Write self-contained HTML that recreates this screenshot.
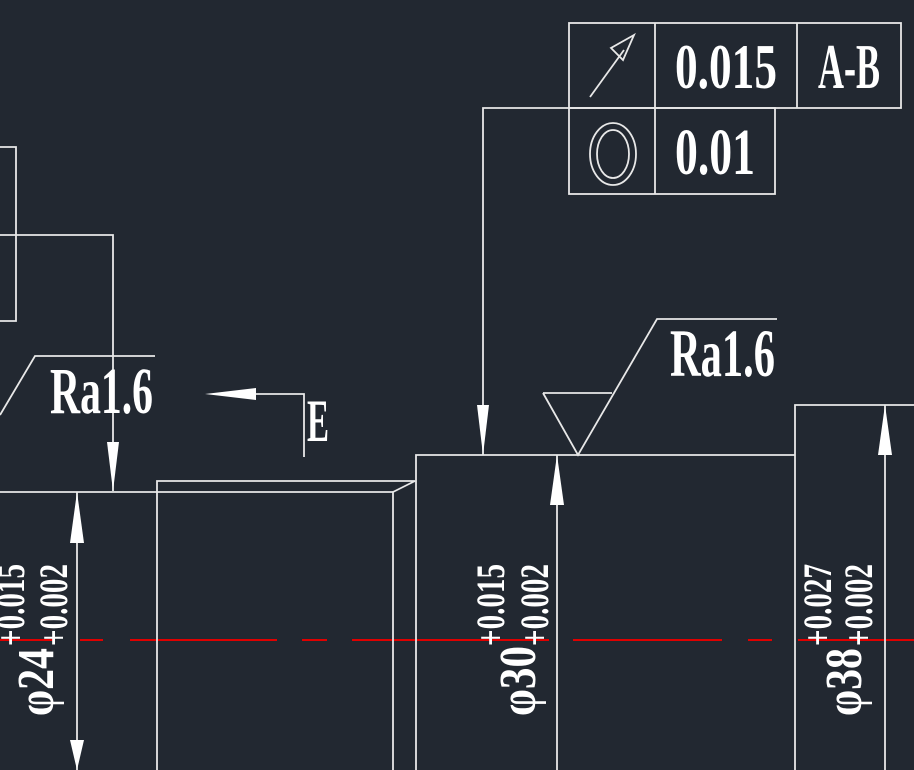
<!DOCTYPE html>
<html><head><meta charset="utf-8"><style>
html,body{margin:0;padding:0;background:#222831;}
svg{display:block}
text{font-family:"Liberation Serif",serif;fill:#fff;font-weight:bold;}
</style></head><body>
<svg width="914" height="770" viewBox="0 0 914 770" xmlns="http://www.w3.org/2000/svg">
<rect width="914" height="770" fill="#222831"/>
<g stroke="#e00000" stroke-width="2">
<line x1="0" y1="640" x2="55" y2="640"/><line x1="80" y1="640" x2="103" y2="640"/>
<line x1="130" y1="640" x2="277" y2="640"/><line x1="302" y1="640" x2="327" y2="640"/>
<line x1="352" y1="640" x2="549" y2="640"/><line x1="573" y1="640" x2="722" y2="640"/>
<line x1="748" y1="640" x2="772" y2="640"/><line x1="798" y1="640" x2="914" y2="640"/>
</g>
<g stroke="#e8e8e8" stroke-width="1.8" fill="none">
<polyline points="0,147 16,147 16,321 0,321"/>
<polyline points="0,235 113,235 113,491"/>
<polyline points="0,415 35,356 155,356"/>
<polyline points="240,394 304,394 304,457"/>
<line x1="0" y1="492" x2="393" y2="492"/>
<polyline points="157,770 157,481 415,481 393,492 393,770"/>
<polyline points="416,770 416,455 795,455"/>
<polyline points="795,770 795,405 914,405"/>
<line x1="77" y1="492" x2="77" y2="770"/>
<line x1="557" y1="455" x2="557" y2="770"/>
<line x1="885" y1="405" x2="885" y2="770"/>
<polyline points="483,455 483,108 569,108"/>
<polyline points="543,393 612,393"/>
<polyline points="543,393 578,455 657,319 777,319"/>
<rect x="569" y="23" width="332" height="85"/>
<rect x="569" y="108" width="206" height="86"/>
<line x1="655" y1="23" x2="655" y2="194"/>
<line x1="797" y1="23" x2="797" y2="108"/>
<line x1="590" y1="97" x2="624" y2="50"/>
<polygon points="634,35 611,48 623,60"/>
<ellipse cx="613" cy="154" rx="23" ry="31"/>
<ellipse cx="613" cy="154" rx="16" ry="24"/>
</g>
<g fill="#fff">
<polygon points="113,491 107,442 119,442"/>
<polygon points="205,394 256,388 256,400"/>
<polygon points="77,492 70,543 84,543"/>
<polygon points="77,770 70,740 84,740"/>
<polygon points="483,455 477,405 489,405"/>
<polygon points="557,455 550,505 564,505"/>
<polygon points="885,405 878,455 892,455"/>
</g>
<text x="50" y="413" font-size="66" textLength="103" lengthAdjust="spacingAndGlyphs">Ra1.6</text>
<text x="307" y="441" font-size="60" textLength="22" lengthAdjust="spacingAndGlyphs">E</text>
<text x="670" y="376" font-size="68" textLength="105" lengthAdjust="spacingAndGlyphs">Ra1.6</text>
<text x="675" y="88" font-size="64" textLength="102" lengthAdjust="spacingAndGlyphs">0.015</text>
<text x="818" y="88" font-size="64" textLength="62" lengthAdjust="spacingAndGlyphs">A-B</text>
<text x="675" y="174" font-size="66" textLength="80" lengthAdjust="spacingAndGlyphs">0.01</text>
<g transform="translate(53,716) rotate(-90)"><text x="0" y="0" font-size="52" textLength="68" lengthAdjust="spacingAndGlyphs">φ24</text></g>
<g transform="translate(24,646) rotate(-90)"><text x="0" y="0" font-size="40" textLength="82" lengthAdjust="spacingAndGlyphs">+0.015</text></g>
<g transform="translate(67,646) rotate(-90)"><text x="0" y="0" font-size="40" textLength="82" lengthAdjust="spacingAndGlyphs">+0.002</text></g>
<g transform="translate(535,716) rotate(-90)"><text x="0" y="0" font-size="52" textLength="70" lengthAdjust="spacingAndGlyphs">φ30</text></g>
<g transform="translate(504,646) rotate(-90)"><text x="0" y="0" font-size="40" textLength="82" lengthAdjust="spacingAndGlyphs">+0.015</text></g>
<g transform="translate(548,646) rotate(-90)"><text x="0" y="0" font-size="40" textLength="82" lengthAdjust="spacingAndGlyphs">+0.002</text></g>
<g transform="translate(861,716) rotate(-90)"><text x="0" y="0" font-size="52" textLength="68" lengthAdjust="spacingAndGlyphs">φ38</text></g>
<g transform="translate(831,646) rotate(-90)"><text x="0" y="0" font-size="40" textLength="82" lengthAdjust="spacingAndGlyphs">+0.027</text></g>
<g transform="translate(872,646) rotate(-90)"><text x="0" y="0" font-size="40" textLength="82" lengthAdjust="spacingAndGlyphs">+0.002</text></g>
</svg>
</body></html>
